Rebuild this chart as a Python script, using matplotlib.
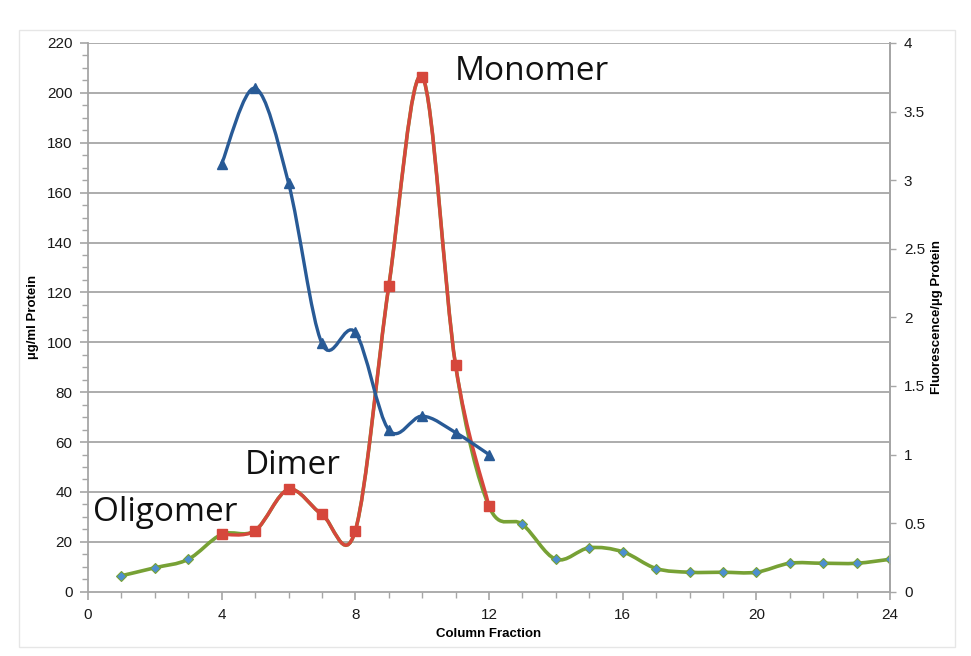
import matplotlib
matplotlib.use("Agg")
import matplotlib.pyplot as plt
from matplotlib.path import Path
from matplotlib.patches import PathPatch, Rectangle
import numpy as np

# ---- data ----
fractions_protein = [1, 2, 3, 4, 5, 6, 7, 8, 9, 10, 11, 12, 13, 14, 15, 16, 17, 18, 19, 20, 21, 22, 23, 24]
protein_ug_ml = [6.4, 9.6, 13, 23, 24.5, 41, 31, 24.5, 122.5, 206.5, 90.8, 34.3, 27, 13, 17.6, 16,
                 9.3, 7.8, 7.8, 7.8, 11.4, 11.4, 11.4, 13]
fractions_peak = [4, 5, 6, 7, 8, 9, 10, 11, 12]
peak_ug_ml = [23, 24.5, 41, 31, 24.5, 122.5, 206.5, 90.8, 34.3]
fractions_fluor = [4, 5, 6, 7, 8, 9, 10, 11, 12]
fluor_per_ug = [3.12, 3.67, 2.98, 1.81, 1.89, 1.18, 1.28, 1.16, 1.0]

x_ticks = [0, 4, 8, 12, 16, 20, 24]
left_ticks = list(range(0, 221, 20))
right_ticks = [0, 0.5, 1, 1.5, 2, 2.5, 3, 3.5, 4]
right_tick_labels = ["0", "0.5", "1", "1.5", "2", "2.5", "3", "3.5", "4"]
annotations = [("Monomer", 10.98, 208.5), ("Dimer", 4.70, 50.7), ("Oligomer", 0.15, 31.9)]

GREEN = "#77A135"
RED = "#D6473C"
BLUE = "#285A96"
GRID = "#A6A6A6"


def smooth_path(xs, ys):
    """Excel-like smoothed line: cubic Bezier segments (Catmull-Rom control points)."""
    xs = np.asarray(xs, float)
    ys = np.asarray(ys, float)
    n = len(xs)
    verts = [(xs[0], ys[0])]
    codes = [Path.MOVETO]
    for i in range(n - 1):
        i0 = max(i - 1, 0)
        i3 = min(i + 2, n - 1)
        c1 = (xs[i] + (xs[i + 1] - xs[i0]) / 6.0, ys[i] + (ys[i + 1] - ys[i0]) / 6.0)
        c2 = (xs[i + 1] - (xs[i3] - xs[i]) / 6.0, ys[i + 1] - (ys[i3] - ys[i]) / 6.0)
        verts += [c1, c2, (xs[i + 1], ys[i + 1])]
        codes += [Path.CURVE4, Path.CURVE4, Path.CURVE4]
    return Path(verts, codes)


plt.rcParams["font.family"] = ["Liberation Sans", "DejaVu Sans"]

fig = plt.figure(figsize=(9.71, 6.56), dpi=100)
fig.patches.append(Rectangle((19 / 971, 1 - 647 / 656), (955 - 19) / 971, (647 - 30) / 656,
                             transform=fig.transFigure, fill=False, edgecolor="#E6E6E6", lw=1.0))

ax = fig.add_axes([88 / 971, 1 - 591.7 / 656, (890 - 88) / 971, (591.7 - 43) / 656])
ax2 = ax.twinx()

ax.set_xlim(0, 24)
ax.set_ylim(0, 220)
ax2.set_ylim(0, 4)

# grid
for v in left_ticks[1:]:
    ax.axhline(v, color=GRID, lw=1.3, zorder=0.5)

# green protein line
ax.add_patch(PathPatch(smooth_path(fractions_protein, protein_ug_ml), fill=False,
                       edgecolor=GREEN, lw=2.6, zorder=2, capstyle="round"))
ax.plot(fractions_protein, protein_ug_ml, linestyle="none", marker="D", markersize=5.5,
        markerfacecolor="#4C8FD0", markeredgecolor=GREEN, markeredgewidth=0.8, zorder=3)

# red peak line
ax.add_patch(PathPatch(smooth_path(fractions_peak, peak_ug_ml), fill=False,
                       edgecolor=RED, lw=2.4, zorder=4, capstyle="round"))
ax.plot(fractions_peak, peak_ug_ml, linestyle="none", marker="s", markersize=7.5,
        markerfacecolor=RED, markeredgecolor=RED, zorder=5)

# blue fluorescence line (right axis)
ax2.add_patch(PathPatch(smooth_path(fractions_fluor, fluor_per_ug), fill=False,
                        edgecolor=BLUE, lw=2.4, zorder=4, capstyle="round"))
ax2.plot(fractions_fluor, fluor_per_ug, linestyle="none", marker="^", markersize=7.5,
         markerfacecolor=BLUE, markeredgecolor=BLUE, zorder=5)

# axes styling
for a in (ax, ax2):
    a.spines["top"].set_visible(False)
    for s in ("left", "right", "bottom"):
        a.spines[s].set_color(GRID)
        a.spines[s].set_linewidth(1.3)
ax2.spines["left"].set_visible(False)
ax2.spines["bottom"].set_visible(False)

ax.set_xticks(x_ticks)
ax.set_xticks(range(0, 25), minor=True)
ax.set_yticks(left_ticks)
ax.set_yticks(range(0, 221, 5), minor=True)
ax.tick_params(axis="both", which="major", direction="out", length=6, width=1.2,
               color=GRID, labelsize=11, labelcolor="#1a1a1a")
ax.tick_params(axis="both", which="minor", direction="out", length=4, width=1.0, color=GRID)
ax.tick_params(axis="x", pad=6)
ax.tick_params(axis="y", pad=5)
ax2.set_yticks(right_ticks)
ax2.set_yticklabels(right_tick_labels)
ax2.tick_params(axis="y", which="major", direction="out", length=4, width=1.0,
                color=GRID, labelsize=11, labelcolor="#1a1a1a", pad=6)

ax.set_xlabel("Column Fraction", fontsize=9.5, fontweight="bold", labelpad=4)
ax.set_ylabel("µg/ml Protein", fontsize=9.5, fontweight="bold", labelpad=6)
ax2.set_ylabel("Fluorescence/µg Protein", fontsize=9.5, fontweight="bold", labelpad=4)

for txt, x, y in annotations:
    ax.text(x, y, txt, fontsize=24, family=["Open Sans", "DejaVu Sans"], color="#111111",
            ha="left", va="center", zorder=6)

ax.set_zorder(1)
ax2.set_zorder(2)
ax.patch.set_visible(False)
ax2.patch.set_visible(False)

fig.savefig("out.png", dpi=100)
